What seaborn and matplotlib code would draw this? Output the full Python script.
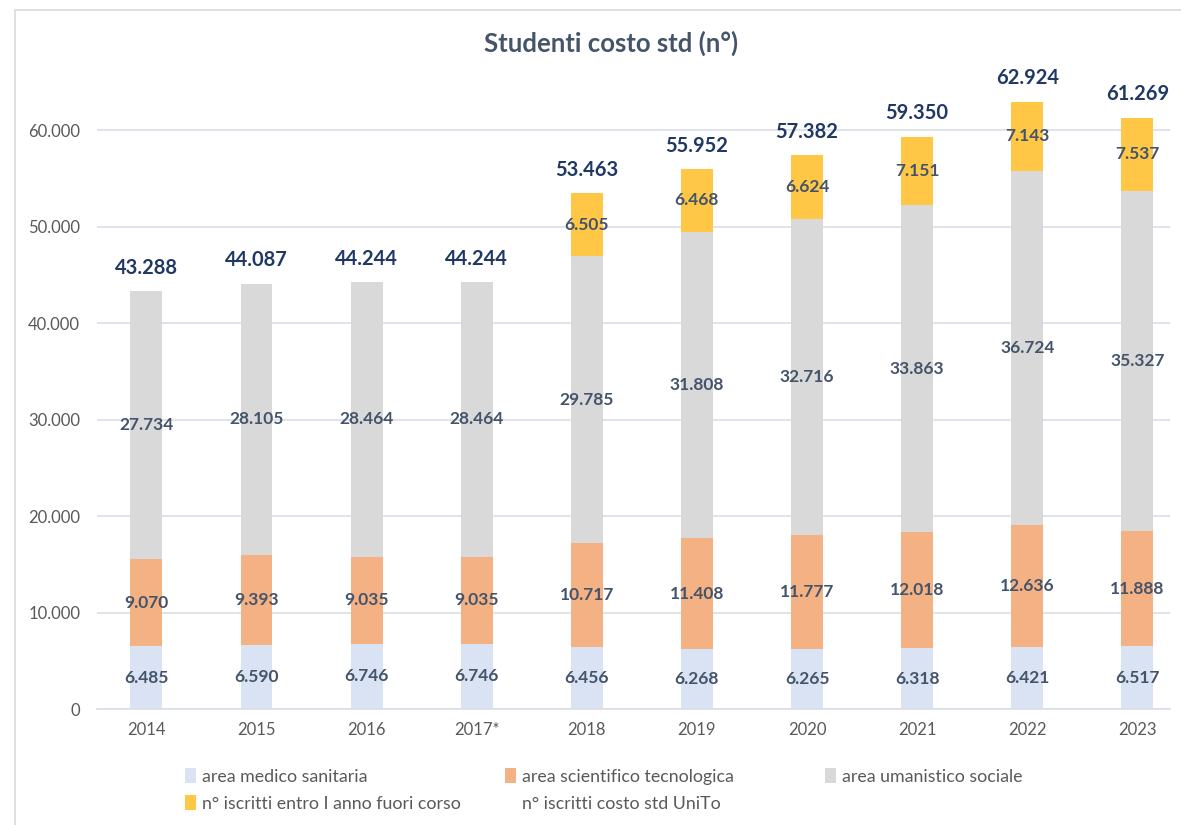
import numpy as np
import pandas as pd
import matplotlib
matplotlib.use('Agg')
import matplotlib.pyplot as plt
from matplotlib.patches import Patch, Rectangle
from matplotlib.lines import Line2D
import seaborn as sns

# data
years = ['2014', '2015', '2016', '2017*', '2018', '2019', '2020', '2021', '2022', '2023']
medico = [6485, 6590, 6746, 6746, 6456, 6268, 6265, 6318, 6421, 6517]
scientifico = [9070, 9393, 9035, 9035, 10717, 11408, 11777, 12018, 12636, 11888]
umanistico = [27734, 28105, 28464, 28464, 29785, 31808, 32716, 33863, 36724, 35327]
fuori_corso = [0, 0, 0, 0, 6505, 6468, 6624, 7151, 7143, 7537]
totale = [43288, 44087, 44244, 44244, 53463, 55952, 57382, 59350, 62924, 61269]

series_names = ['area medico sanitaria', 'area scientifico tecnologica',
                'area umanistico sociale', 'n° iscritti entro I anno fuori corso']
series_vals = [medico, scientifico, umanistico, fuori_corso]
colors = ['#DAE3F3', '#F4B183', '#D9D9D9', '#FFC745']

sns.set_theme(style='white')
plt.rcParams['font.family'] = ['Lato', 'DejaVu Sans']

label_col = '#44546A'
tick_col = '#595959'
total_col = '#1F3864'


def fmt(v):
    return f'{v:,}'.replace(',', '.')


fig = plt.figure(figsize=(11.81, 8.25), dpi=100)
ax = fig.add_axes([0.082, 0.1406, 0.909, 0.76])

# outer chart frame
fig.patches.append(Rectangle((15 / 1181, -0.01), 1.0, 1 - 10 / 825 + 0.01,
                             transform=fig.transFigure, fill=False,
                             edgecolor='#D9D9D9', linewidth=1.2, zorder=0))

bottom = np.zeros(len(years))
for name, vals, col in zip(series_names, series_vals, colors):
    df = pd.DataFrame({'anno': years, 'valore': vals})
    sns.barplot(data=df, x='anno', y='valore', color=col, width=0.29,
                bottom=bottom, ax=ax, saturation=1, linewidth=0, zorder=2)
    for i, v in enumerate(vals):
        if v > 0:
            ax.text(i, bottom[i] + v / 2, fmt(v), ha='center', va='center',
                    fontsize=12.5, fontweight='bold', color=label_col, zorder=3)
    bottom = bottom + np.array(vals)

for i, t in enumerate(totale):
    ax.annotate(fmt(t), (i, t), xytext=(0, 17), textcoords='offset points',
                ha='center', va='center', fontsize=14.5, fontweight='bold',
                color=total_col, annotation_clip=False)

ax.set_ylim(0, 65000)
ax.set_xlim(-0.45, 9.3)
ax.set_yticks(range(0, 60001, 10000))
ax.set_yticklabels([fmt(v) for v in range(0, 60001, 10000)])
ax.yaxis.grid(True, color='#D9DEE8', linewidth=1.2, zorder=0)
ax.set_axisbelow(True)
for s in ['top', 'right', 'left']:
    ax.spines[s].set_visible(False)
ax.spines['bottom'].set_color('#D9DEE8')
ax.spines['bottom'].set_linewidth(1.2)
ax.tick_params(axis='both', length=0, labelsize=12, labelcolor=tick_col)
ax.tick_params(axis='y', pad=12)
ax.tick_params(axis='x', pad=9)
ax.set_xlabel('')
ax.set_ylabel('')

fig.text(0.517, 0.948, 'Studenti costo std (n°)', ha='center', va='center',
         fontsize=18.5, fontweight='bold', color=label_col)

# legend laid out in three fixed columns, like the original
handles = [Patch(facecolor=c, edgecolor='none') for c in colors]
handles.append(Line2D([], [], linestyle='none'))
labels = series_names + ['n° iscritti costo std UniTo']
columns = [([0, 3], 185), ([1, 4], 505), ([2], 825)]
for idx, xpx in columns:
    leg = fig.legend([handles[k] for k in idx], [labels[k] for k in idx],
                     loc='upper left', bbox_to_anchor=(xpx / 1181, 1 - 768 / 825),
                     frameon=False, fontsize=12.8, handlelength=0.6, handleheight=0.9,
                     handletextpad=0.35, labelspacing=0.6, borderaxespad=0, borderpad=0)
    for t in leg.get_texts():
        t.set_color(tick_col)

fig.savefig('out.png', dpi=100)
